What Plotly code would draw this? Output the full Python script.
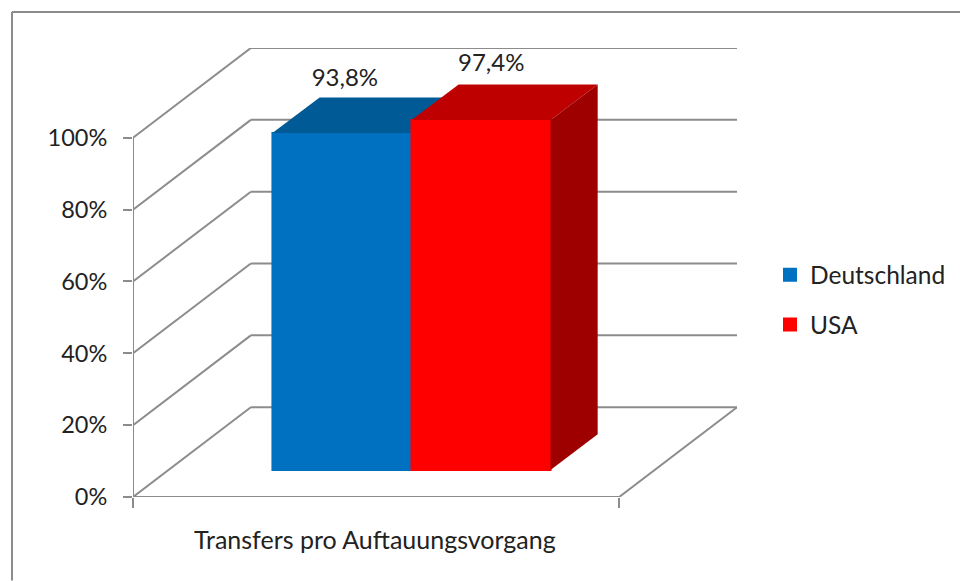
import plotly.graph_objects as go

categories = ["Deutschland", "USA"]
values = [93.8, 97.4]
value_labels = ["93,8%", "97,4%"]
axis_label = "Transfers pro Auftauungsvorgang"
y_ticks = [0, 20, 40, 60, 80, 100]
y_ticktext = ["0%", "20%", "40%", "60%", "80%", "100%"]
front_colors = ["#0070C0", "#FF0000"]
top_colors = ["#005A96", "#BF0000"]
side_colors = ["#004A7C", "#9E0000"]

# fake 3D: oblique offsets in axis units (x: 1 = floor width, y: percent)
WALL_DX = 0.2424
WALL_DY = 25
BAR_DX = 0.097
BAR_DY = 9.9
BAR_BASE = 7.55
BAR_WIDTH = 0.286
BAR_LEFT = 0.2868
LABEL_SHIFT = [0.006, 0.021]
LABEL_RISE = [4.9, 5.5]
GRID = "#8C8C8C"
FONT = "Lato"
TEXT = "#222222"

W, H = 960, 581
L, R, T, B = 133, 737, 48, 497.5


def px_x(p):
    return (p - L) / (R - L)


def px_y(p):
    return (B - p) / (B - T)


fig = go.Figure()

for i, name in enumerate(categories):
    xa = "x" if i == 0 else "x2"
    ya = "y" if i == 0 else "y2"
    left = BAR_LEFT + i * BAR_WIDTH
    right = left + BAR_WIDTH
    top = BAR_BASE + values[i]

    # front face, the outline only makes the legend swatch a bit bigger
    fig.add_trace(go.Bar(
        x=[left + BAR_WIDTH / 2],
        y=[values[i]],
        base=BAR_BASE,
        width=BAR_WIDTH,
        name=name,
        legendgroup=name,
        marker=dict(color=front_colors[i], line=dict(width=2, color=front_colors[i])),
        xaxis=xa,
        yaxis=ya,
    ))
    # top face
    fig.add_trace(go.Scatter(
        x=[left, right, right + BAR_DX, left + BAR_DX, left],
        y=[top, top, top + BAR_DY, top + BAR_DY, top],
        fill="toself",
        fillcolor=top_colors[i],
        mode="none",
        showlegend=False,
        hoverinfo="skip",
        xaxis=xa,
        yaxis=ya,
    ))
    # side face
    fig.add_trace(go.Scatter(
        x=[right, right + BAR_DX, right + BAR_DX, right, right],
        y=[top, top + BAR_DY, BAR_BASE + BAR_DY, BAR_BASE, top],
        fill="toself",
        fillcolor=side_colors[i],
        mode="none",
        showlegend=False,
        hoverinfo="skip",
        xaxis=xa,
        yaxis=ya,
    ))
    # value label
    fig.add_trace(go.Scatter(
        x=[left + BAR_WIDTH / 2 + LABEL_SHIFT[i]],
        y=[top + BAR_DY + LABEL_RISE[i]],
        text=[value_labels[i]],
        mode="text",
        textposition="middle center",
        textfont=dict(family=FONT, size=24, color=TEXT),
        showlegend=False,
        hoverinfo="skip",
        xaxis="x2",
        yaxis="y2",
    ))

# walls and floor go below the bars
shapes = []
line = dict(color=GRID, width=2)
for t in y_ticks:
    shapes.append(dict(type="line", xref="x", yref="y", layer="below", line=line,
                       x0=0, y0=t, x1=WALL_DX, y1=t + WALL_DY))
    shapes.append(dict(type="line", xref="x", yref="y", layer="below", line=line,
                       x0=WALL_DX, y0=t + WALL_DY, x1=1 + WALL_DX, y1=t + WALL_DY))
shapes.append(dict(type="line", xref="x", yref="y", layer="below", line=line,
                   x0=0, y0=0, x1=0, y1=100))
shapes.append(dict(type="line", xref="x", yref="y", layer="below", line=line,
                   x0=0, y0=0, x1=1, y1=0))
shapes.append(dict(type="line", xref="x", yref="y", layer="below", line=line,
                   x0=1, y0=0, x1=1 + WALL_DX, y1=WALL_DY))
# outer frame, only top and left are visible
shapes.append(dict(type="line", xref="paper", yref="paper", line=line,
                   x0=px_x(12), y0=px_y(12), x1=px_x(960), y1=px_y(12)))
shapes.append(dict(type="line", xref="paper", yref="paper", line=line,
                   x0=px_x(12), y0=px_y(12), x1=px_x(12), y1=px_y(581)))

x_range = [0, 1 + WALL_DX]
y_range = [0, 100 + WALL_DY]

fig.update_layout(
    width=W,
    height=H,
    margin=dict(l=L, r=W - R, t=T, b=H - B, autoexpand=False),
    paper_bgcolor="white",
    plot_bgcolor="rgba(0,0,0,0)",
    barmode="overlay",
    font=dict(family=FONT, size=23, color=TEXT),
    showlegend=True,
    legend=dict(
        x=px_x(770),
        y=px_y(300),
        xanchor="left",
        yanchor="middle",
        bgcolor="rgba(0,0,0,0)",
        traceorder="grouped",
        tracegroupgap=15,
        font=dict(family=FONT, size=24.5, color=TEXT),
    ),
    xaxis=dict(
        range=x_range,
        showgrid=False,
        zeroline=False,
        showline=False,
        tickmode="array",
        tickvals=[0, 1],
        ticktext=["", ""],
        ticks="outside",
        ticklen=10,
        tickwidth=2,
        tickcolor=GRID,
    ),
    yaxis=dict(
        range=y_range,
        showgrid=False,
        zeroline=False,
        showline=False,
        tickmode="array",
        tickvals=y_ticks,
        ticktext=y_ticktext,
        ticks="outside",
        ticklen=9,
        tickwidth=2,
        tickcolor=GRID,
        ticklabelstandoff=11,
        tickfont=dict(family=FONT, size=23.5, color=TEXT),
    ),
    xaxis2=dict(range=x_range, overlaying="x", visible=False),
    yaxis2=dict(range=y_range, overlaying="y", visible=False),
    shapes=shapes,
    annotations=[dict(
        text=axis_label,
        xref="x",
        yref="paper",
        x=0.497,
        y=px_y(540),
        yanchor="middle",
        showarrow=False,
        font=dict(family=FONT, size=25, color=TEXT),
    )],
)

# the page's default body margin would push everything 8px down and right
fig.write_html(
    "out.html",
    config={"displayModeBar": False},
    post_script="document.body.style.margin='0';",
)
